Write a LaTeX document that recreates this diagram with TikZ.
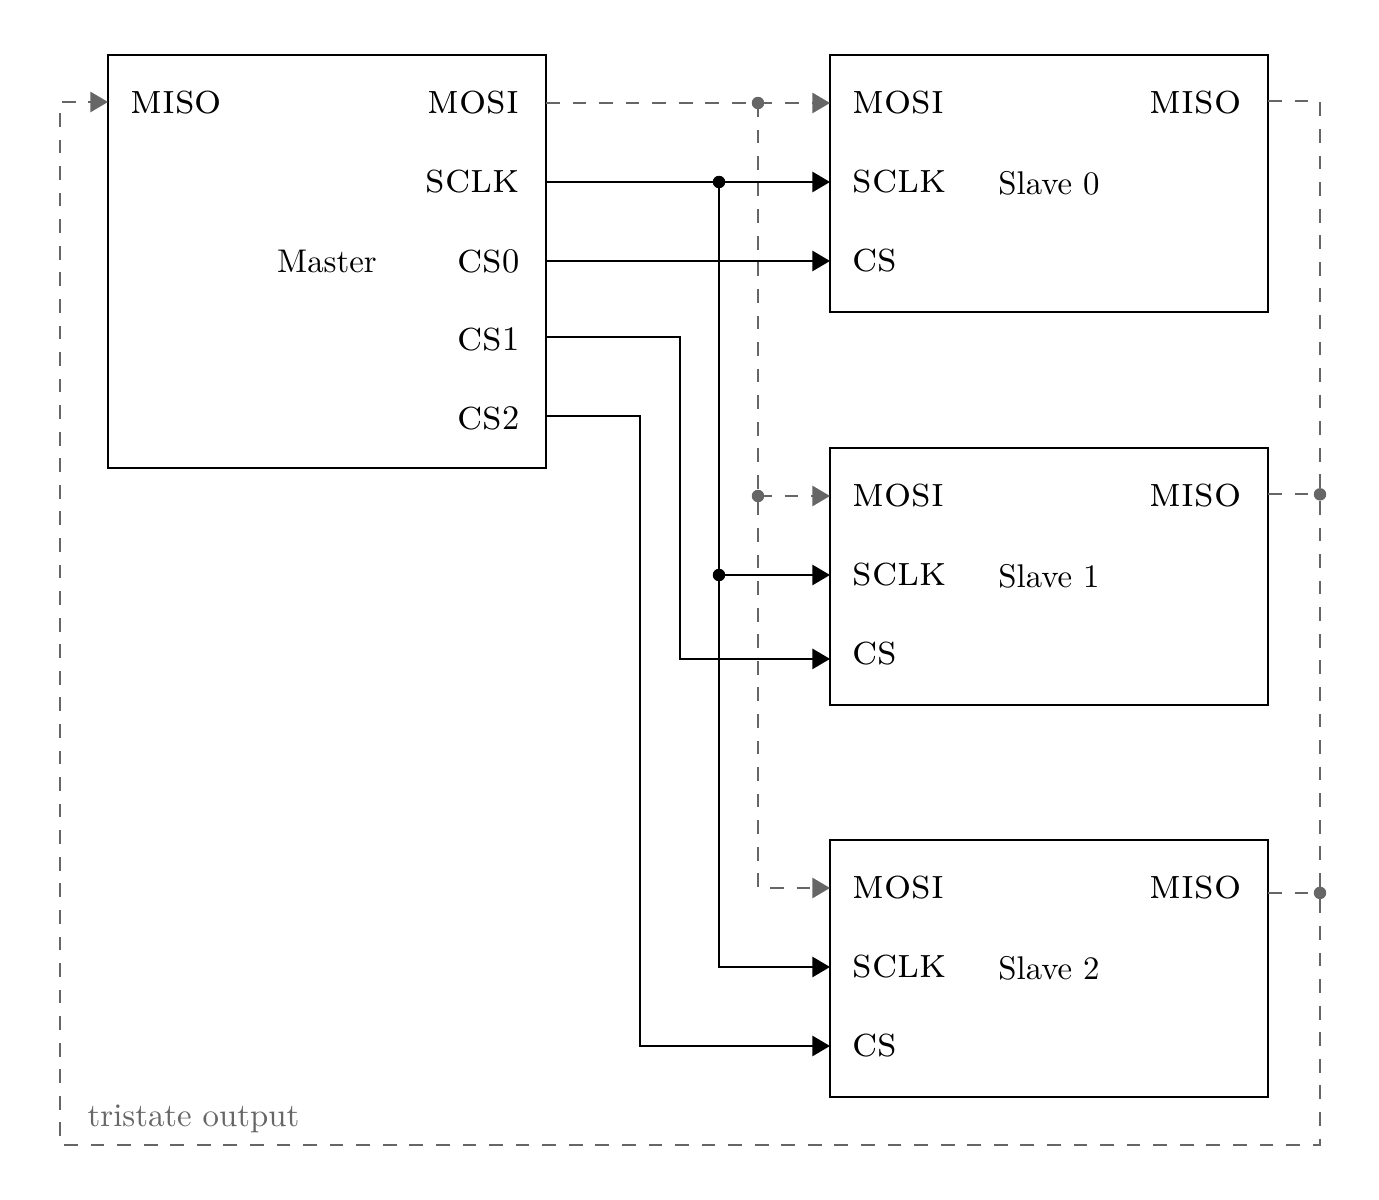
\documentclass[tikz,border=0pt]{standalone}
\usetikzlibrary{arrows.meta}
\definecolor{wiregray}{HTML}{666666}
\newcommand\pindigit[1]{{\fontsize{10.5}{12}\selectfont\upshape #1}}
\begin{document}
\begin{tikzpicture}[x=0.3049pt,y=-0.3049pt,
  box/.style={draw, line width=0.6pt, minimum width=438*0.3049pt,
    inner sep=0pt, outer sep=0pt},
  pinlabel/.style={inner sep=0pt, font=\fontsize{13}{15}\selectfont\scshape},
  wire/.style={line width=0.6pt},
  bus/.style={line width=0.6pt, wiregray, dash pattern=on 4.2pt off 3.9pt},
  tip/.style={-{Triangle[length=5.4pt,width=6.2pt]}},
  junction/.style={circle, fill, inner sep=0pt, minimum size=3.8pt},
  busjunction/.style={junction, fill=wiregray}
]
\useasboundingbox (0,0) rectangle (1379,1200);

% Master
\node[box, minimum height=413*0.3049pt] (master) at (327,261.5) {Master};
\node[pinlabel, anchor=west] (m-miso) at (130,103) {miso};
\node[pinlabel, anchor=east] (m-mosi) at (520,103) {mosi};
\node[pinlabel, anchor=east] (m-sclk) at (520,182) {sclk};
\node[pinlabel, anchor=east] (m-cs0)  at (520,261) {cs\pindigit{0}};
\node[pinlabel, anchor=east] (m-cs1)  at (520,339) {cs\pindigit{1}};
\node[pinlabel, anchor=east] (m-cs2)  at (520,418) {cs\pindigit{2}};

% Slaves
\foreach \i/\y in {0/55,1/448,2/840}{
  \node[box, minimum height=257*0.3049pt] (s\i) at (1049,\y+128.5) {Slave \i};
  \node[pinlabel, anchor=west] (s\i-mosi) at (852,\y+48)  {mosi};
  \node[pinlabel, anchor=west] (s\i-sclk) at (852,\y+127) {sclk};
  \node[pinlabel, anchor=west] (s\i-cs)   at (852,\y+206) {cs};
  \node[pinlabel, anchor=east] (s\i-miso) at (1242,\y+48) {miso};
}

% Wire rows that sit slightly off their pin labels
\coordinate (r-cs1)    at ([yshift=0.7pt]m-cs1.center);
\coordinate (r-cs2)    at ([yshift=0.7pt]m-cs2.center);
\coordinate (r-s1cs)   at ([yshift=-1.5pt]s1-cs.center);
\coordinate (r-s0miso) at ([yshift=0.5pt]s0-miso.center);
\coordinate (r-s1miso) at ([yshift=0.5pt]s1-miso.center);
\coordinate (r-s2miso) at ([yshift=-1.5pt]s2-miso.center);

% Bus columns and corners
\coordinate (xmosi) at (758,0);
\coordinate (xsclk) at (719,0);
\coordinate (xcs1)  at (680,0);
\coordinate (xcs2)  at (640,0);
\coordinate (rbot)  at (1320,1145);
\coordinate (lret)  at (60,102);

% MOSI (dashed)
\draw[bus,tip] (master.east |- m-mosi) -- (s0.west |- s0-mosi);
\draw[bus,tip] (xmosi |- m-mosi) |- (s2.west |- s2-mosi);
\draw[bus,tip] (xmosi |- s1-mosi) -- (s1.west |- s1-mosi);

% SCLK
\draw[wire,tip] (master.east |- m-sclk) -- (s0.west |- s0-sclk);
\draw[wire,tip] (xsclk |- m-sclk) |- (s2.west |- s2-sclk);
\draw[wire,tip] (xsclk |- s1-sclk) -- (s1.west |- s1-sclk);

% Chip selects
\draw[wire,tip] (master.east |- m-cs0) -- (s0.west |- s0-cs);
\draw[wire,tip] (master.east |- r-cs1) -| (xcs1 |- r-s1cs) -- (s1.west |- r-s1cs);
\draw[wire,tip] (master.east |- r-cs2) -| (xcs2 |- s2-cs) -- (s2.west |- s2-cs);

% MISO return (tristate)
\draw[bus,tip] (s0.east |- r-s0miso) -| (rbot) -| (lret) -- (master.west |- lret);
\draw[bus] (s1.east |- r-s1miso) -- (rbot |- r-s1miso);
\draw[bus] (s2.east |- r-s2miso) -- (rbot |- r-s2miso);

% Junction dots
\node[busjunction] (jm0) at (xmosi |- m-mosi) {};
\node[busjunction] (jm1) at (xmosi |- s1-mosi) {};
\node[junction] (jc0) at (xsclk |- m-sclk) {};
\node[junction] (jc1) at (xsclk |- s1-sclk) {};
\node[busjunction] (jr1) at (rbot |- r-s1miso) {};
\node[busjunction] (jr2) at (rbot |- r-s2miso) {};

\node[anchor=base west, inner sep=0pt, text=wiregray] (tri) at (87,1127) {tristate output};
\end{tikzpicture}
\end{document}
